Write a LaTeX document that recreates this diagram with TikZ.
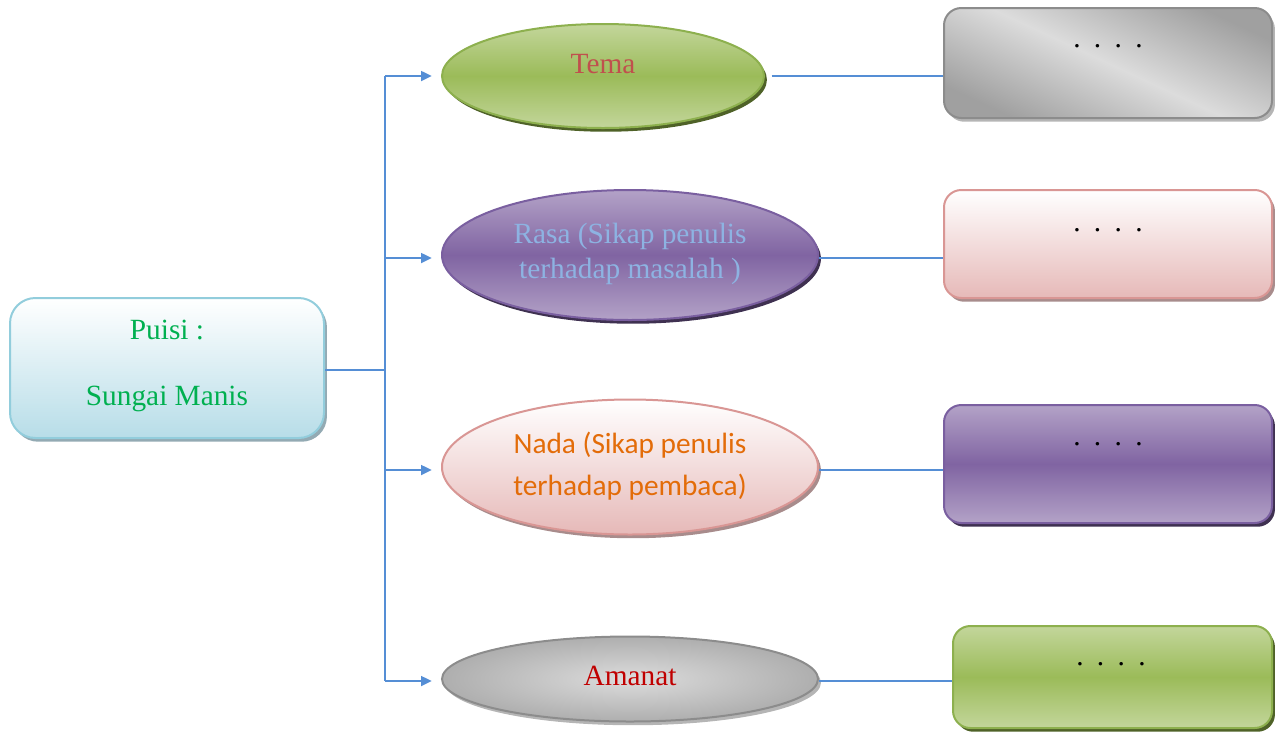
\documentclass[tikz,border=0pt]{standalone}
\usepackage{fontspec}
\setmainfont{Liberation Serif}
\newfontfamily\calib{Carlito}
\usetikzlibrary{shapes.geometric,shadows,arrows.meta}
\definecolor{lineblue}{HTML}{558ED5}
\definecolor{gLight}{HTML}{C3D69B}
\definecolor{gMid}{HTML}{9BBB59}
\definecolor{gEdge}{HTML}{8DB04E}
\definecolor{gShadow}{HTML}{4F6228}
\definecolor{pLight}{HTML}{B3A2C7}
\definecolor{pMid}{HTML}{8064A2}
\definecolor{pEdge}{HTML}{7A5FA0}
\definecolor{pShadow}{HTML}{3F3151}
\definecolor{rBot}{HTML}{E6B9B8}
\definecolor{rEdge}{HTML}{D99694}
\definecolor{rShadow}{HTML}{A88C8C}
\definecolor{kLight}{HTML}{DCDCDC}
\definecolor{kDark}{HTML}{A0A0A0}
\definecolor{kEdge}{HTML}{8C8C8C}
\definecolor{kShadow}{HTML}{B5B5B5}
\definecolor{bBot}{HTML}{B7DDE8}
\definecolor{bEdge}{HTML}{92CDDC}
\definecolor{bShadow}{HTML}{93AAB3}
\definecolor{tGreen}{HTML}{00B050}
\definecolor{tRed}{HTML}{C0504D}
\definecolor{tBlue}{HTML}{8DB3E2}
\definecolor{tOrange}{HTML}{E36C09}
\definecolor{tDark}{HTML}{C00000}
\begin{document}
\begin{tikzpicture}[x=0.75pt,y=-0.75pt,
  ell/.style={ellipse, inner sep=0pt, line width=1.5pt},
  rbox/.style={rectangle, inner sep=0pt, line width=1.5pt, rounded corners=13pt},
  shad/.style={drop shadow={shadow xshift=2.2pt, shadow yshift=-2.8pt, fill=#1, opacity=1}},
  greenfill/.style={draw=gEdge, top color=gLight, bottom color=gLight, middle color=gMid, shad=gShadow},
  purplefill/.style={draw=pEdge, top color=pLight, bottom color=pLight, middle color=pMid, shad=pShadow},
  pinkfill/.style={draw=rEdge, top color=white, bottom color=rBot, shad=rShadow},
  grayfill/.style={draw=kEdge, top color=kDark, bottom color=kDark, middle color=kLight, shading angle=-25, shad=kShadow},
  lbl/.style={inner sep=0pt, align=center},
  dots/.style={inner sep=0pt, font=\fontsize{22}{26}\selectfont},
  conn/.style={draw=lineblue, line width=1.3pt},
  arr/.style={conn, -{Triangle[length=8pt,width=7.5pt]}, shorten >=7pt}
]
\useasboundingbox (0,0) rectangle (1286,733);

% left box
\node[rbox, rounded corners=19pt, draw=bEdge, top color=white, bottom color=bBot, shad=bShadow,
      minimum width=235.5pt, minimum height=105pt] (puisi) at (167,368) {};
\node[lbl, text=tGreen, font=\fontsize{22}{49}\selectfont] (puisiT) at (167,366) {Puisi :\\Sungai Manis};

% ellipses
\node[ell, greenfill, minimum width=241.5pt, minimum height=78pt] (tema) at (603,76) {};
\node[lbl, text=tRed, font=\fontsize{22}{26}\selectfont] (temaT) at (603,64) {Tema};

\node[ell, purplefill, minimum width=282pt, minimum height=97.5pt] (rasa) at (630,255) {};
\node[lbl, text=tBlue, font=\fontsize{22}{26}\selectfont] (rasaT) at (630,254) {Rasa (Sikap penulis\\terhadap masalah )};

\node[ell, pinkfill, minimum width=282pt, minimum height=101.25pt] (nada) at (630,467) {};
\node[lbl, text=tOrange, font=\calib\fontsize{22}{31.5}\selectfont] (nadaT) at (630,466) {Nada (Sikap penulis\\terhadap pembaca)};

\node[ell, draw=kEdge, inner color=kLight, outer color=kDark!85, shad=kShadow, minimum width=282pt, minimum height=63.75pt] (amanat) at (630,679) {};
\node[lbl, text=tDark, font=\fontsize{22}{26}\selectfont] (amanatT) at (630,676) {Amanat};

% right boxes
\node[rbox, grayfill, minimum width=246pt, minimum height=82.5pt] (b1) at (1108,63) {};
\node[rbox, pinkfill, minimum width=246pt, minimum height=81pt] (b2) at (1108,244) {};
\node[rbox, purplefill, minimum width=246pt, minimum height=88.5pt] (b3) at (1108,464) {};
\node[rbox, greenfill, minimum width=239.25pt, minimum height=76.5pt] (b4) at (1112.5,677) {};

\node[dots] (d1) at (1108,46) {.\hspace{10pt}.\hspace{10pt}.\hspace{10pt}.};
\node[dots] (d2) at (1108,230) {.\hspace{10pt}.\hspace{10pt}.\hspace{10pt}.};
\node[dots] (d3) at (1108,444) {.\hspace{10pt}.\hspace{10pt}.\hspace{10pt}.};
\node[dots] (d4) at (1111,664) {.\hspace{10pt}.\hspace{10pt}.\hspace{10pt}.};

% connectors
\coordinate (split) at (385,370);
\coordinate (temaW) at (tema.west);
\coordinate (rasaW) at ([yshift=-2.25pt]rasa.west);
\coordinate (nadaW) at ([yshift=-2.25pt]nada.west);
\coordinate (amanatW) at ([yshift=-1.5pt]amanat.west);
\coordinate (temaE) at ([xshift=5pt]tema.east);
\coordinate (rasaE) at ([yshift=-2.25pt]rasa.east);
\coordinate (nadaE) at ([yshift=-2.25pt]nada.east);
\coordinate (amanatE) at ([yshift=-1.5pt]amanat.east);

\draw[conn] (puisi.east |- split) -- (split);
\draw[conn] (temaW -| split) -- (amanatW -| split);
\draw[arr] (temaW -| split) -- (temaW);
\draw[arr] (rasaW -| split) -- (rasaW);
\draw[arr] (nadaW -| split) -- (nadaW);
\draw[arr] (amanatW -| split) -- (amanatW);

\draw[conn] (temaE) -- (b1.west |- temaE);
\draw[conn] (rasaE) -- (b2.west |- rasaE);
\draw[conn] (nadaE) -- (b3.west |- nadaE);
\draw[conn] (amanatE) -- (b4.west |- amanatE);
\end{tikzpicture}
\end{document}
